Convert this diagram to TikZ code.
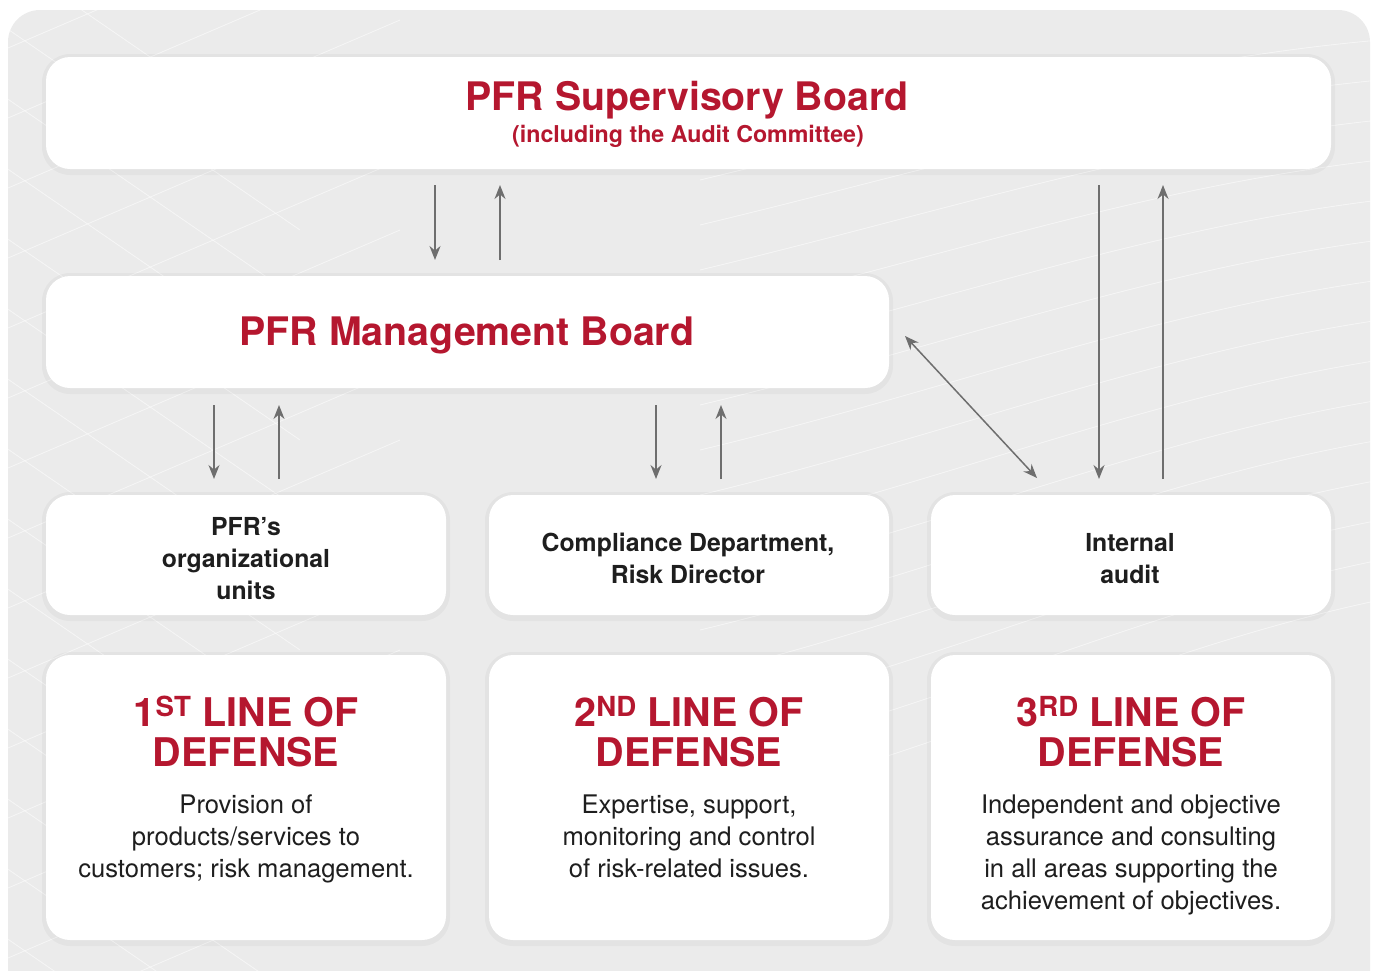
\documentclass[tikz,border=0pt]{standalone}
\usepackage{fontspec}
\setmainfont{TeX Gyre Heros}
\usetikzlibrary{arrows.meta,calc}
\definecolor{pfred}{HTML}{B5172F}
\definecolor{bgc}{HTML}{EBEBEB}
\definecolor{arrc}{HTML}{6E6E6E}
\definecolor{txtc}{HTML}{1E1E1E}
\tikzset{
  panel/.style={fill=white, draw=none, rounded corners=24pt, inner sep=0pt},
  halo/.style={fill=black, fill opacity=0.03, draw=none, rounded corners=28pt},
  bigtitle/.style={text=pfred, font=\bfseries\fontsize{39.3}{44}\selectfont, align=center, inner sep=0pt},
  subtitle/.style={text=pfred, font=\bfseries\fontsize{23.2}{28}\selectfont, align=center, inner sep=0pt},
  unitlabel/.style={text=txtc, font=\bfseries\fontsize{24.8}{32}\selectfont, align=center, inner sep=0pt},
  linehead/.style={text=pfred, font=\bfseries\fontsize{39.5}{40}\selectfont, align=center, inner sep=0pt},
  bodytext/.style={text=txtc, font=\fontsize{25.6}{32}\selectfont, align=center, inner sep=0pt},
  flow/.style={draw=arrc, line width=1.5pt, -{Stealth[length=14pt,width=11pt]}},
  flowboth/.style={draw=arrc, line width=1.5pt, {Stealth[length=14pt,width=11pt]}-{Stealth[length=14pt,width=11pt]}},
  mesh/.style={draw=white, line width=0.8pt, opacity=0.55},
}
\begin{document}
\begin{tikzpicture}[x=1pt,y=-1pt]
\useasboundingbox (0,0) rectangle (1375,970);
\clip (0,0) rectangle (1375,970);
% background
\fill[bgc, rounded corners=32pt] (8,10) rectangle (1370,1010);
\begin{scope}
\clip[rounded corners=32pt] (8,10) rectangle (1370,1010);
\foreach \k in {0,...,14}{
  \draw[mesh] (700,{180+45*\k}) .. controls (950,{120+45*\k}) and (1150,{60+42*\k}) .. (1380,{40+40*\k});
  \draw[mesh] (-20,{60+70*\k}) -- (400,{-120+70*\k});
  \draw[mesh] (-20,{-60+70*\k}) -- (300,{160+70*\k});
}
\end{scope}

% halos (soft shadow)
\foreach \a/\b/\c/\d in {46/57/1331/169, 46/276/889/388, 46/495/446/615, 489/495/889/615, 931/495/1331/615, 46/655/446/940, 489/655/889/940, 931/655/1331/940}{
  \fill[halo] (\a-4,\b-3) rectangle (\c+4,\d+6);
}

% panels
\node[panel, minimum width=1285pt, minimum height=112pt] (sup) at (688.5,113) {};
\node[panel, minimum width=843pt, minimum height=112pt] (mgmt) at (467.5,332) {};
\node[panel, minimum width=400pt, minimum height=120pt] (units) at (246,555) {};
\node[panel, minimum width=400pt, minimum height=120pt] (comp) at (689,555) {};
\node[panel, minimum width=400pt, minimum height=120pt] (audit) at (1131,555) {};
\node[panel, minimum width=400pt, minimum height=285pt] (l1) at (246,797.5) {};
\node[panel, minimum width=400pt, minimum height=285pt] (l2) at (689,797.5) {};
\node[panel, minimum width=400pt, minimum height=285pt] (l3) at (1131,797.5) {};

% texts
\node[bigtitle, anchor=base] (supT) at (687,110) {PFR Supervisory Board};
\node[subtitle, anchor=base] (supS) at (688,142) {(including the Audit Committee)};
\node[bigtitle, anchor=base] (mgmtT) at (467,345) {PFR Management Board};
\node[unitlabel, anchor=base] (unitsT) at (246,599) {PFR’s\\organizational\\units};
\node[unitlabel, anchor=base] (compT) at (688,583) {Compliance Department,\\Risk Director};
\node[unitlabel, anchor=base] (auditT) at (1130,583) {Internal\\audit};

\node[linehead, anchor=base] (h1) at (246,766) {1\textsuperscript{ST} LINE OF\\DEFENSE};
\node[linehead, anchor=base] (h2) at (689,766) {2\textsuperscript{ND} LINE OF\\DEFENSE};
\node[linehead, anchor=base] (h3) at (1131,766) {3\textsuperscript{RD} LINE OF\\DEFENSE};

\node[bodytext, anchor=base] (b1) at (246,877) {Provision of\\products/services to\\customers; risk management.};
\node[bodytext, anchor=base] (b2) at (689,877) {Expertise, support,\\monitoring and control\\of risk-related issues.};
\node[bodytext, anchor=base] (b3) at (1131,909) {Independent and objective\\assurance and consulting\\in all areas supporting the\\achievement of objectives.};

% connector end points
\coordinate (s1a) at (435,185); \coordinate (s1b) at (435,260);
\coordinate (s2a) at (500,260); \coordinate (s2b) at (500,185);
\coordinate (u1a) at (214,405); \coordinate (u1b) at (214,479);
\coordinate (u2a) at (279,479); \coordinate (u2b) at (279,405);
\coordinate (c1a) at (656,405); \coordinate (c1b) at (656,479);
\coordinate (c2a) at (721,479); \coordinate (c2b) at (721,405);
\coordinate (dA) at (905,336); \coordinate (dB) at (1037,478);
\coordinate (i1a) at (1099,185); \coordinate (i1b) at (1099,479);
\coordinate (i2a) at (1163,479); \coordinate (i2b) at (1163,185);

\draw[flow] (s1a) -- (s1b);
\draw[flow] (s2a) -- (s2b);
\draw[flow] (u1a) -- (u1b);
\draw[flow] (u2a) -- (u2b);
\draw[flow] (c1a) -- (c1b);
\draw[flow] (c2a) -- (c2b);
\draw[flowboth] (dA) -- (dB);
\draw[flow] (i1a) -- (i1b);
\draw[flow] (i2a) -- (i2b);
\end{tikzpicture}
\end{document}
